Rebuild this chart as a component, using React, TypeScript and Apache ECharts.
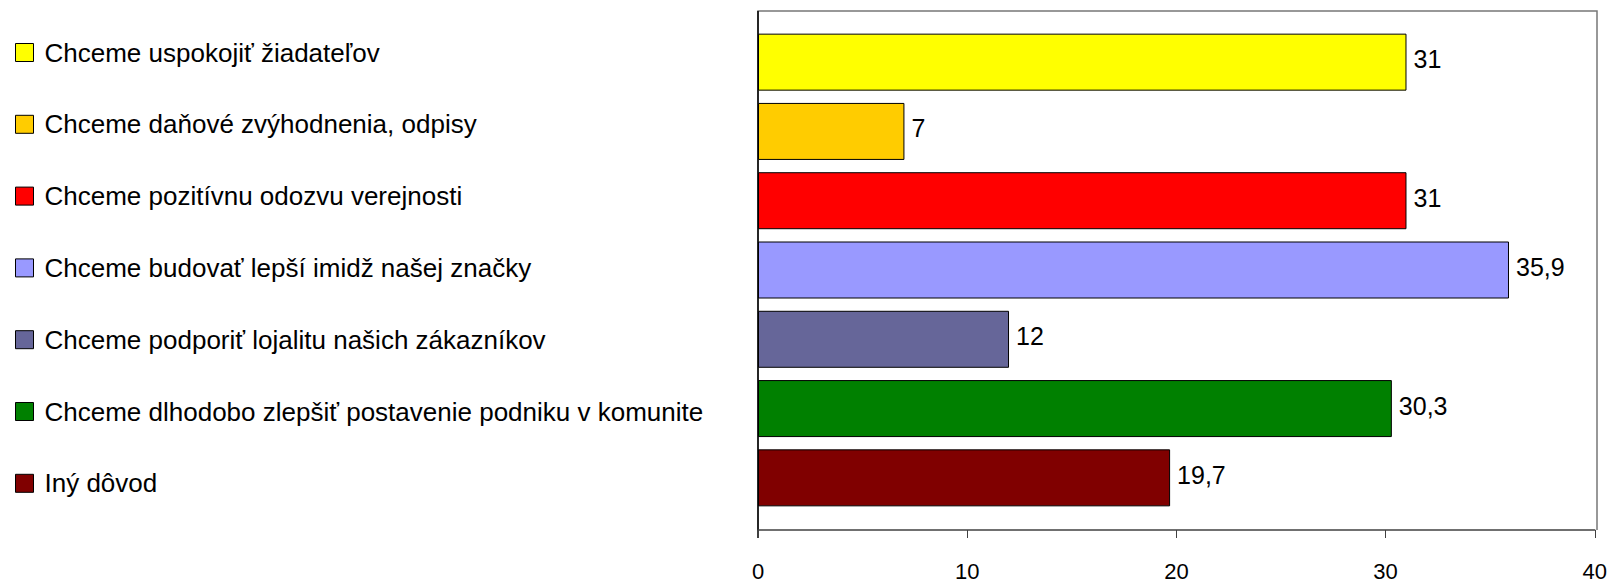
import React, { useEffect, useRef } from "react";
import * as echarts from "echarts";

const categories: string[] = [
  "Chceme uspokojiť žiadateľov",
  "Chceme daňové zvýhodnenia, odpisy",
  "Chceme pozitívnu odozvu verejnosti",
  "Chceme budovať lepší imidž našej značky",
  "Chceme podporiť lojalitu našich zákazníkov",
  "Chceme dlhodobo zlepšiť postavenie podniku v komunite",
  "Iný dôvod",
];
const values: number[] = [31, 7, 31, 35.9, 12, 30.3, 19.7];
const colors: string[] = ["#FFFF00", "#FFCC00", "#FF0000", "#9999FF", "#666699", "#008000", "#800000"];
const xTicks = { min: 0, max: 40, interval: 10 };

const FONT = "'Liberation Sans', Arial, sans-serif";

export default function App() {
  const ref = useRef<HTMLDivElement>(null);
  useEffect(() => {
    if (!ref.current) return;
    const chart = echarts.init(ref.current, undefined, { renderer: "svg" });
    const gridLeft = 758;
    const gridRight = 13;
    const gridTop = 27.5;
    const gridHeight = 485;
    const series = categories.map((name, i) => ({
      name,
      type: "bar",
      stack: "all",
      barWidth: 57,
      data: categories.map((_, j) => (j === i ? values[i] : "-")),
      itemStyle: { color: colors[i], borderColor: "#000", borderWidth: 1 },
      label: {
        show: true,
        position: "right",
        distance: 7,
        color: "#000",
        fontFamily: FONT,
        fontSize: 25,
        offset: [0, -3],
        formatter: (p: any) => String(p.value).replace(".", ","),
      },
    }));
    chart.setOption({
      animation: false,
      backgroundColor: "#fff",
      grid: { left: gridLeft, right: gridRight, top: gridTop, height: gridHeight },
      legend: {
        orient: "vertical",
        left: 15,
        top: 39.5,
        padding: 0,
        itemWidth: 18,
        itemHeight: 18,
        itemGap: 45.8,
        icon: "rect",
        selectedMode: false,
        data: categories,
        textStyle: {
          fontFamily: FONT,
          fontSize: 26,
          color: "#000",
          lineHeight: 24,
          padding: [0, 0, 0, 6],
        },
        itemStyle: { borderColor: "#000", borderWidth: 1 },
      },
      xAxis: {
        type: "value",
        min: xTicks.min,
        max: xTicks.max,
        interval: xTicks.interval,
        offset: 17.5,
        axisLine: { show: true, lineStyle: { color: "#404040", width: 1.5 } },
        axisTick: { show: true, inside: false, length: 8, lineStyle: { color: "#404040" } },
        axisLabel: { fontFamily: FONT, fontSize: 22, color: "#000", margin: 30 },
        splitLine: { show: false },
      },
      yAxis: {
        type: "category",
        inverse: true,
        data: categories,
        axisLine: { show: false },
        axisTick: { show: false },
        axisLabel: { show: false },
      },
      graphic: [
        {
          type: "polyline",
          silent: true,
          shape: { points: [[758, 530], [758, 11], [1597, 11], [1597, 530]] },
          style: { fill: "none", stroke: "#777", lineWidth: 1.5 },
        },
        {
          type: "line",
          silent: true,
          shape: { x1: 758, y1: 11, x2: 758, y2: 538 },
          style: { stroke: "#000", lineWidth: 1.5 },
        },
      ],
      series,
    });
    return () => chart.dispose();
  }, []);
  return <div ref={ref} style={{ width: 1610, height: 582, position: "absolute", left: 0, top: 0 }} />;
}
